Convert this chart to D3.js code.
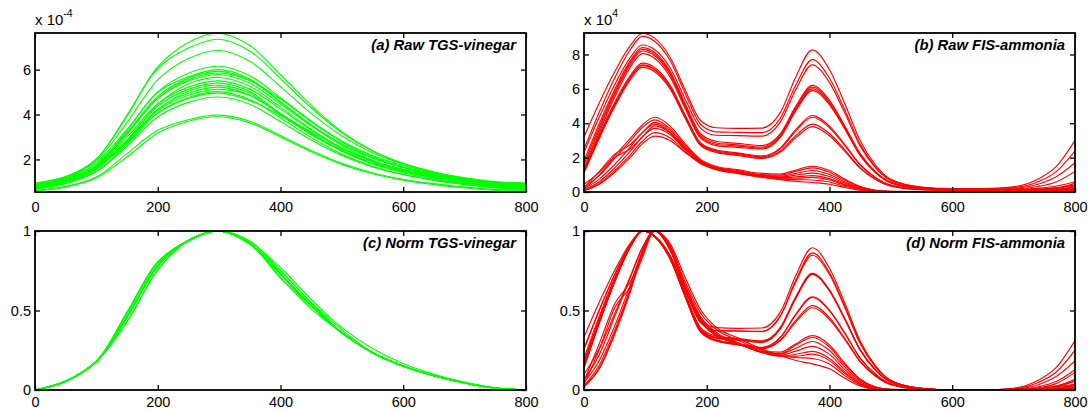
<!DOCTYPE html>
<html>
<head>
<meta charset="utf-8">
<script src="https://cdn.jsdelivr.net/npm/d3@7"></script>
<style>
  html, body { margin: 0; padding: 0; background: #fff; }
  svg { display: block; font-family: "Liberation Sans", Arial, Helvetica, sans-serif; }
</style>
</head>
<body>
<svg id="chart" width="1089" height="410"></svg>
<script>
// ---- TGS sensor responses (units of 1e-4), sampled every 50 points ----
const tgsX = [0, 50, 100, 150, 200, 250, 300, 350, 400, 450, 500, 550, 600, 650, 700, 750, 800];
const tgsRaw = [
  [0.78,1.16,2.01,3.93,6.12,7.21,7.62,7.07,5.77,4.41,3.24,2.39,1.81,1.40,1.09,0.86,0.78],
  [0.85,1.21,2.02,3.98,6.05,6.96,7.35,6.83,5.60,4.30,3.19,2.38,1.83,1.44,1.14,0.93,0.85],
  [0.90,1.23,1.97,3.64,5.54,6.49,6.85,6.37,5.24,4.05,3.04,2.30,1.79,1.44,1.17,0.97,0.90],
  [0.95,1.24,1.89,3.34,5.01,5.84,6.15,5.73,4.75,3.71,2.82,2.17,1.73,1.42,1.18,1.01,0.95],
  [0.72,1.01,1.67,3.30,4.98,5.68,6.00,5.58,4.57,3.52,2.62,1.96,1.51,1.20,0.96,0.78,0.72],
  [0.88,1.16,1.79,3.20,4.81,5.62,5.92,5.52,4.56,3.55,2.69,2.06,1.64,1.33,1.11,0.94,0.88],
  [0.80,1.08,1.71,3.12,4.74,5.55,5.85,5.50,4.69,3.68,2.78,2.12,1.64,1.30,1.05,0.87,0.80],
  [0.93,1.20,1.80,3.16,4.71,5.49,5.78,5.39,4.47,3.50,2.68,2.07,1.66,1.37,1.15,0.99,0.93],
  [0.75,1.02,1.63,2.85,4.45,5.36,5.65,5.26,4.33,3.35,2.51,1.90,1.49,1.19,0.97,0.81,0.75],
  [0.85,1.11,1.69,2.99,4.48,5.22,5.50,5.13,4.24,3.31,2.52,1.94,1.55,1.27,1.06,0.91,0.85],
  [0.70,0.96,1.55,2.86,4.37,5.12,5.40,5.02,4.03,3.10,2.39,1.80,1.41,1.12,0.91,0.76,0.70],
  [0.90,1.14,1.69,2.80,4.22,5.04,5.30,4.95,4.00,3.23,2.48,1.93,1.56,1.30,1.10,0.95,0.90],
  [0.78,1.02,1.58,2.82,4.24,4.95,5.22,4.86,4.02,3.13,2.38,1.82,1.45,1.18,0.98,0.83,0.78],
  [0.82,1.06,1.59,2.80,4.17,4.86,5.12,4.85,4.05,3.18,2.37,1.83,1.47,1.21,1.01,0.87,0.82],
  [0.68,0.92,1.46,2.68,4.07,4.76,5.02,4.67,3.85,2.98,2.24,1.70,1.33,1.07,0.88,0.73,0.68],
  [0.88,1.10,1.61,2.75,4.05,4.71,4.95,4.62,3.95,3.12,2.42,1.84,1.49,1.25,1.06,0.93,0.88],
  [0.72,0.94,1.45,2.59,3.89,4.54,4.78,4.46,3.68,2.87,2.18,1.67,1.33,1.09,0.90,0.77,0.72],
  [0.62,0.80,1.22,2.26,3.30,3.77,3.97,3.70,3.07,2.40,1.83,1.41,1.12,0.92,0.77,0.66,0.62],
  [0.58,0.76,1.18,2.11,3.17,3.70,3.90,3.63,3.00,2.34,1.78,1.36,1.08,0.88,0.73,0.62,0.58]
];

// ---- FIS sensor responses (units of 1e4) ----
const fisX = [0, 25, 50, 75, 95, 115, 140, 165, 190, 215, 250, 290, 320, 345, 372, 400, 425, 450, 475, 500, 550, 600, 650, 700, 740, 770, 800];
const fisRaw = [
  [3.20,5.19,6.99,8.50,9.22,8.95,7.85,5.92,4.16,3.74,3.70,3.72,4.63,6.68,8.27,7.11,5.13,2.98,1.57,0.74,0.29,0.20,0.20,0.30,0.75,1.50,3.00],
  [2.50,4.66,6.63,8.26,9.05,8.77,7.66,5.72,3.94,3.50,3.47,3.45,4.30,6.21,7.70,6.62,4.77,2.77,1.46,0.69,0.27,0.18,0.18,0.26,0.60,1.20,2.40],
  [2.30,4.36,6.24,7.80,8.55,8.29,7.24,5.40,3.72,3.30,3.28,3.25,4.08,5.95,7.40,6.36,4.59,2.66,1.41,0.67,0.26,0.17,0.17,0.22,0.45,0.90,1.70],
  [1.80,3.98,5.96,7.61,8.40,8.13,7.04,5.13,3.39,2.95,2.83,2.70,3.40,4.98,6.20,5.33,3.84,2.23,1.18,0.56,0.22,0.15,0.15,0.18,0.32,0.60,1.20],
  [1.60,3.81,5.82,7.50,8.30,8.03,6.94,5.03,3.29,2.85,2.74,2.62,3.32,4.88,6.10,5.25,3.78,2.20,1.16,0.55,0.21,0.14,0.14,0.16,0.22,0.35,0.60],
  [1.40,3.64,5.68,7.38,8.20,7.93,6.85,4.95,3.21,2.78,2.67,2.55,3.24,4.79,6.00,5.16,3.72,2.16,1.14,0.54,0.20,0.13,0.13,0.14,0.17,0.23,0.35],
  [1.20,3.46,5.52,7.23,8.05,7.78,6.71,4.84,3.13,2.70,2.60,2.50,3.18,4.71,5.90,5.07,3.66,2.12,1.12,0.53,0.20,0.12,0.12,0.12,0.13,0.15,0.20],
  [1.30,3.35,5.21,6.76,7.50,7.25,6.24,4.47,2.85,2.45,2.28,2.10,2.57,3.63,4.45,3.83,2.76,1.60,0.85,0.40,0.16,0.12,0.12,0.13,0.18,0.26,0.40],
  [1.20,3.25,5.11,6.66,7.40,7.15,6.15,4.40,2.80,2.40,2.23,2.05,2.51,3.55,4.35,3.74,2.70,1.57,0.83,0.39,0.15,0.11,0.11,0.11,0.14,0.18,0.25],
  [1.15,3.20,5.06,6.61,7.35,7.10,6.10,4.35,2.75,2.35,2.18,2.00,2.39,3.27,3.95,3.40,2.45,1.42,0.75,0.36,0.14,0.10,0.10,0.10,0.11,0.12,0.15],
  [1.10,3.13,4.97,6.51,7.25,7.00,6.01,4.28,2.70,2.30,2.13,1.95,2.32,3.15,3.80,3.27,2.36,1.37,0.72,0.34,0.13,0.10,0.10,0.10,0.10,0.11,0.12],
  [0.45,1.15,2.10,3.10,3.90,4.35,3.85,2.80,1.90,1.50,1.30,1.08,1.05,1.28,1.50,1.25,0.75,0.32,0.10,0.04,0.02,0.02,0.02,0.03,0.08,0.20,0.50],
  [0.30,0.95,1.95,2.95,3.75,4.20,3.70,2.70,1.85,1.45,1.25,1.02,0.98,1.20,1.40,1.15,0.68,0.30,0.10,0.04,0.02,0.02,0.02,0.02,0.05,0.12,0.30],
  [0.25,1.20,2.20,2.75,3.45,4.05,3.60,2.60,1.80,1.42,1.20,0.98,0.93,1.08,1.25,1.02,0.60,0.26,0.08,0.03,0.02,0.02,0.02,0.02,0.04,0.10,0.25],
  [0.20,0.75,1.60,2.60,3.45,3.95,3.50,2.55,1.78,1.40,1.18,0.95,0.88,0.98,1.10,0.90,0.52,0.22,0.07,0.03,0.02,0.02,0.02,0.02,0.03,0.07,0.15],
  [0.15,1.00,2.00,2.50,3.20,3.85,3.45,2.50,1.75,1.38,1.15,0.92,0.84,0.88,0.95,0.78,0.45,0.18,0.06,0.02,0.02,0.02,0.02,0.02,0.03,0.05,0.10],
  [0.12,0.60,1.40,2.35,3.20,3.70,3.35,2.45,1.72,1.36,1.12,0.90,0.80,0.80,0.85,0.70,0.40,0.16,0.05,0.02,0.02,0.02,0.02,0.02,0.02,0.04,0.08],
  [0.10,0.50,1.25,2.15,2.95,3.45,3.15,2.35,1.68,1.33,1.10,0.88,0.76,0.72,0.70,0.58,0.33,0.13,0.04,0.02,0.02,0.02,0.02,0.02,0.02,0.03,0.06],
  [0.08,0.45,1.15,2.00,2.80,3.25,3.00,2.30,1.65,1.30,1.08,0.85,0.72,0.62,0.55,0.45,0.26,0.10,0.03,0.02,0.02,0.02,0.02,0.02,0.02,0.03,0.05]
];

// ---- axis ticks and labels ----
const xTicks = [0, 200, 400, 600, 800];
const tgsRawTicks = [2, 4, 6];
const fisRawTicks = [0, 2, 4, 6, 8];
const normTicks = [0, 0.5, 1];
const panelTitles = ["(a) Raw TGS-vinegar", "(b) Raw FIS-ammonia", "(c) Norm TGS-vinegar", "(d) Norm FIS-ammonia"];
const exponents = ["-4", "4"];

// min-max normalisation of one response curve
function normalize(curve) {
  const lo = d3.min(curve), hi = d3.max(curve);
  return curve.map(v => (v - lo) / (hi - lo));
}

const svg = d3.select("#chart");

const panels = [
  { left: 35,  top: 33,  xs: tgsX, curves: tgsRaw, yDomain: [0.55, 7.63], yTicks: tgsRawTicks,
    color: "#00ff00", title: panelTitles[0], exp: exponents[0], interp: d3.curveCatmullRom, pad: 10 },
  { left: 584, top: 33,  xs: fisX, curves: fisRaw, yDomain: [0, 9.25], yTicks: fisRawTicks,
    color: "#ff0000", title: panelTitles[1], exp: exponents[1], interp: d3.curveMonotoneX, pad: 10 },
  { left: 35,  top: 231, xs: tgsX, curves: tgsRaw.map(normalize), yDomain: [0, 1], yTicks: normTicks,
    color: "#00ff00", title: panelTitles[2], exp: null, interp: d3.curveCatmullRom, pad: 7 },
  { left: 584, top: 231, xs: fisX, curves: fisRaw.map(normalize), yDomain: [0, 1], yTicks: normTicks,
    color: "#ff0000", title: panelTitles[3], exp: null, interp: d3.curveMonotoneX, pad: 7 }
];

const W = 491, H = 159;

panels.forEach((p, i) => {
  const g = svg.append("g").attr("transform", `translate(${p.left},${p.top})`);
  const x = d3.scaleLinear().domain([0, 800]).range([0, W]);
  const y = d3.scaleLinear().domain(p.yDomain).range([H, 0]);

  const clipId = "clip" + i;
  g.append("clipPath").attr("id", clipId)
    .append("rect").attr("width", W).attr("height", H);

  const line = d3.line()
    .x((d, k) => x(p.xs[k]))
    .y(d => y(d))
    .curve(p.interp);

  g.append("g").attr("clip-path", `url(#${clipId})`)
    .selectAll("path")
    .data(p.curves)
    .join("path")
    .attr("d", line)
    .attr("fill", "none")
    .attr("stroke", p.color)
    .attr("stroke-width", 1.15);

  // inward ticks on all four sides
  const styleAxis = sel => {
    sel.select(".domain").remove();
    sel.selectAll(".tick line").attr("stroke", "#000").attr("stroke-width", 1.3);
    sel.selectAll(".tick text").attr("fill", "#000").style("font-size", "14.5px");
  };

  g.append("g").attr("transform", `translate(0,${H})`)
    .call(d3.axisBottom(x).tickValues(xTicks).tickSizeInner(-5).tickSizeOuter(0).tickPadding(p.pad).tickFormat(d3.format("d")))
    .call(styleAxis);
  g.append("g")
    .call(d3.axisTop(x).tickValues(xTicks).tickSizeInner(-5).tickSizeOuter(0).tickFormat(""))
    .call(styleAxis);
  g.append("g")
    .call(d3.axisLeft(y).tickValues(p.yTicks).tickSizeInner(-5).tickSizeOuter(0).tickPadding(4).tickFormat(d => String(d)))
    .call(styleAxis);
  g.append("g").attr("transform", `translate(${W},0)`)
    .call(d3.axisRight(y).tickValues(p.yTicks).tickSizeInner(-5).tickSizeOuter(0).tickFormat(""))
    .call(styleAxis);

  // frame
  g.append("rect")
    .attr("width", W).attr("height", H)
    .attr("fill", "none").attr("stroke", "#000").attr("stroke-width", 1.8);

  // panel title
  g.append("text")
    .attr("x", W - 10).attr("y", 17)
    .attr("text-anchor", "end")
    .style("font-size", "14.8px").style("font-weight", "bold").style("font-style", "italic")
    .text(p.title);

  // scale exponent above the axis
  if (p.exp) {
    const t = g.append("text").attr("x", 0).attr("y", -8).style("font-size", "15px");
    t.append("tspan").text("x 10");
    t.append("tspan").attr("dy", -8).style("font-size", "10.5px").text(p.exp);
  }
});
</script>
</body>
</html>
